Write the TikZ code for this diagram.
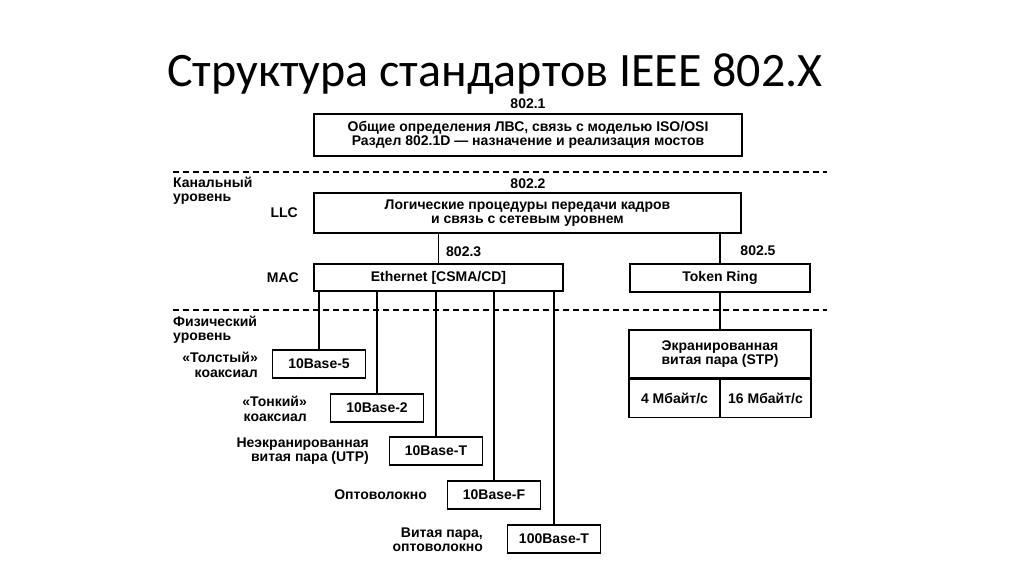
\documentclass[tikz,border=0pt]{standalone}
\usepackage{fontspec}
\setmainfont{Liberation Sans}
\newfontfamily\titlefont{Carlito}
\begin{document}
\begin{tikzpicture}[x=1pt,y=-1pt,
    box/.style={draw, line width=1.4pt, inner sep=0pt, align=center,
      font=\bfseries\fontsize{14}{14.5}\selectfont},
    pbox/.style={box, minimum width=93pt, minimum height=28pt},
    lab/.style={inner sep=0pt, font=\bfseries\fontsize{14}{14.5}\selectfont},
    rlab/.style={lab, align=right, anchor=east},
    llab/.style={lab, align=left, anchor=west},
    sep/.style={line width=1.3pt, dash pattern=on 6pt off 4pt},
    conn/.style={line width=1.4pt}]
  \useasboundingbox (0,0) rectangle (1024,574);

  % Titolo
  \node[font=\titlefont\fontsize{48}{48}\selectfont, anchor=base] (title) at (495,86) {Структура стандартов IEEE 802.X};

  % Linee di separazione
  \draw[sep] (173,172) -- (827,172);
  \draw[sep] (173,310) -- (827,310);

  % Livelli
  \node[llab] (kan) at (173,190.5) {Канальный\\уровень};
  \node[llab] (fiz) at (173,329.5) {Физический\\уровень};

  % Disegno dei nodi
  \node[lab] (n1) at (528,104) {802.1};
  \node[box, minimum width=428pt, minimum height=42pt] (gen) at (528,135)
    {Общие определения ЛВС, связь с моделью ISO/OSI\\Раздел 802.1D — назначение и реализация мостов};
  \node[lab] (n2) at (528,184) {802.2};
  \node[box, minimum width=427pt, minimum height=40pt] (llc) at (527.5,213)
    {Логические процедуры передачи кадров\\и связь с сетевым уровнем};
  \node[rlab] (llclab) at (298,213) {LLC};
  \node[box, minimum width=249pt, minimum height=27pt] (mac) at (438.5,277.5) {Ethernet [CSMA/CD]};
  \node[rlab] (maclab) at (299,277.5) {MAC};
  \node[llab] (n3) at (446,252) {802.3};
  \node[box, minimum width=180pt, minimum height=28pt] (tr) at (720,278) {Token Ring};
  \node[lab] (n5) at (758,251) {802.5};

  % Mezzi fisici Ethernet
  \node[pbox] (b5) at (319,364) {10Base-5};
  \node[pbox] (b2) at (377,408) {10Base-2};
  \node[pbox] (bT) at (436,451) {10Base-T};
  \node[pbox] (bF) at (494,495) {10Base-F};
  \node[pbox] (b100) at (554,539) {100Base-T};
  \node[rlab] (l5) at (258,365) {«Толстый»\\коаксиал};
  \node[rlab] (l2) at (307,409) {«Тонкий»\\коаксиал};
  \node[rlab] (lT) at (369,451) {Неэкранированная\\витая пара (UTP)};
  \node[rlab] (lF) at (427,495) {Оптоволокно};
  \node[rlab] (l100) at (483,539.5) {Витая пара,\\оптоволокно};

  % Token Ring
  \node[box, minimum width=182pt, minimum height=48pt] (stp) at (720,354) {Экранированная\\витая пара (STP)};
  \node[box, minimum width=91pt, minimum height=38pt, anchor=north west] (s4) at (stp.south west) {4 Мбайт/с};
  \node[box, minimum width=91pt, minimum height=38pt, anchor=north east] (s16) at (stp.south east) {16 Мбайт/с};

  % Disegno degli archi
  \draw[conn] (mac.north) -- (mac.north |- llc.south);
  \draw[conn] (tr.north) -- (tr.north |- llc.south);
  \draw[conn] (tr.south) -- (stp.north);
  \foreach \b in {b5,b2,bT,bF,b100}
    \draw[conn] (\b.north) -- (\b.north |- mac.south);
\end{tikzpicture}
\end{document}
